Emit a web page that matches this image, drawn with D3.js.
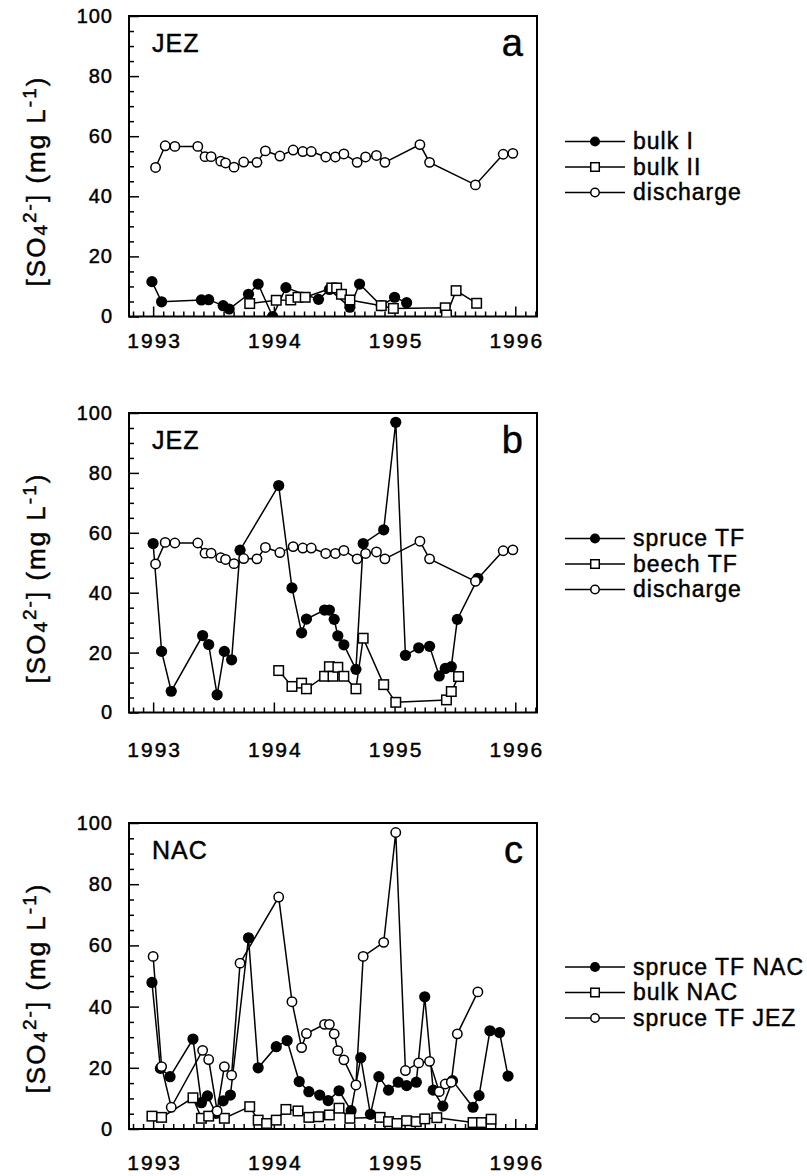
<!DOCTYPE html>
<html>
<head>
<meta charset="utf-8">
<script src="https://cdn.jsdelivr.net/npm/d3@7"></script>
<style>
  body { margin: 0; background: #fff; }
  svg { font-family: 'Liberation Sans', Arial, Helvetica, sans-serif; }
  svg text { fill: #000; stroke: #000; stroke-width: 0.45px; }
  .axis line { stroke: #000; stroke-width: 1.5; }
</style>
</head>
<body>
<div class="chart"></div>
<script>
'use strict'
// sampling dates as decimal years, [SO4 2-] in mg/L
const years = [1993, 1994, 1995, 1996]
const yTicks = [0, 20, 40, 60, 80, 100]

const discharge = [[1993.02, 49.6], [1993.10, 56.8], [1993.18, 56.6], [1993.37, 56.6], [1993.43, 53.2], [1993.48, 53.2],
  [1993.56, 51.7], [1993.60, 51.1], [1993.67, 49.7], [1993.75, 51.4], [1993.86, 51.3], [1993.93, 55.1], [1994.05, 53.4],
  [1994.16, 55.4], [1994.24, 54.9], [1994.31, 54.9], [1994.43, 53.1], [1994.51, 53.1], [1994.58, 54.1], [1994.69, 51.3],
  [1994.76, 53.1], [1994.85, 53.6], [1994.92, 51.3], [1995.21, 57.2], [1995.29, 51.3], [1995.67, 43.8], [1995.90, 54.0],
  [1995.98, 54.3]]

const bulkI = [[1992.99, 11.6], [1993.07, 4.9], [1993.40, 5.5], [1993.46, 5.6], [1993.58, 3.6], [1993.63, 2.5],
  [1993.79, 7.4], [1993.87, 10.8], [1993.99, 0], [1994.10, 9.6], [1994.37, 5.7], [1994.46, 9.0], [1994.63, 3.1],
  [1994.71, 10.8], [1994.89, 3.6], [1995.00, 6.4], [1995.10, 4.6]]

const bulkII = [[1993.80, 4.3], [1994.02, 5.4], [1994.14, 5.5], [1994.20, 6.4], [1994.26, 6.4], [1994.48, 9.5],
  [1994.52, 9.5], [1994.56, 7.4], [1994.63, 5.5], [1994.89, 3.6], [1994.99, 2.7], [1995.42, 2.9], [1995.43, 0.5],
  [1995.51, 8.6], [1995.68, 4.4]]

const spruceTF = [[1993.00, 56.4], [1993.07, 20.4], [1993.15, 7.1], [1993.41, 25.7], [1993.46, 22.7], [1993.53, 5.9],
  [1993.59, 20.4], [1993.65, 17.6], [1993.72, 54.2], [1994.04, 75.8], [1994.15, 41.6], [1994.23, 26.6], [1994.27, 31.2],
  [1994.42, 34.2], [1994.46, 34.2], [1994.50, 31.1], [1994.53, 25.6], [1994.58, 22.6], [1994.68, 14.4], [1994.74, 56.4],
  [1994.91, 61.0], [1995.01, 96.9], [1995.09, 19.1], [1995.20, 21.6], [1995.29, 22.1], [1995.37, 12.2], [1995.42, 14.7],
  [1995.47, 15.3], [1995.52, 31.1], [1995.69, 44.8]]

const beechTF = [[1994.04, 14.0], [1994.15, 8.7], [1994.23, 9.8], [1994.27, 7.9], [1994.42, 12.1], [1994.46, 15.3],
  [1994.49, 12.1], [1994.53, 15.1], [1994.58, 12.1], [1994.68, 7.9], [1994.74, 24.8], [1994.91, 9.3], [1995.01, 3.4],
  [1995.43, 4.2], [1995.47, 7.0], [1995.53, 12.0]]

const spruceNAC = [[1992.99, 47.9], [1993.06, 19.8], [1993.14, 17.1], [1993.33, 29.4], [1993.40, 8.6], [1993.45, 10.8],
  [1993.52, 5.1], [1993.58, 9.2], [1993.64, 11.1], [1993.79, 62.5], [1993.87, 20.0], [1994.02, 26.9], [1994.11, 28.9],
  [1994.21, 15.5], [1994.29, 12.2], [1994.38, 11.1], [1994.45, 9.3], [1994.54, 12.5], [1994.64, 6.0], [1994.72, 23.3],
  [1994.80, 4.8], [1994.87, 17.1], [1994.95, 12.7], [1995.03, 15.3], [1995.10, 14.2], [1995.18, 15.3], [1995.25, 43.2],
  [1995.32, 12.7], [1995.40, 7.5], [1995.48, 15.8], [1995.65, 7.1], [1995.70, 10.9], [1995.79, 32.1], [1995.87, 31.5],
  [1995.94, 17.3]]

const bulkNAC = [[1992.99, 4.2], [1993.07, 3.8], [1993.33, 10.2], [1993.40, 3.5], [1993.46, 4.2], [1993.59, 3.5],
  [1993.80, 7.3], [1993.87, 2.9], [1993.94, 1.8], [1994.02, 2.9], [1994.10, 6.4], [1994.20, 5.9], [1994.29, 3.8],
  [1994.37, 4.0], [1994.46, 4.6], [1994.54, 6.8], [1994.63, 3.5], [1994.88, 3.8], [1994.95, 2.4], [1995.02, 1.8],
  [1995.10, 2.7], [1995.18, 2.4], [1995.25, 3.3], [1995.35, 3.7], [1995.65, 2.1], [1995.72, 2.1], [1995.80, 3.2]]

const panels = [
  { letter: 'a', site: 'JEZ', top: 16, bottom: 316.5, yearPad: 17, legendTop: 141.5,
    series: [{ name: 'bulk I', data: bulkI, mark: 'filled' },
      { name: 'bulk II', data: bulkII, mark: 'square' },
      { name: 'discharge', data: discharge, mark: 'open' }] },
  { letter: 'b', site: 'JEZ', top: 413, bottom: 712.5, yearPad: 30, legendTop: 538.5,
    series: [{ name: 'spruce TF', data: spruceTF, mark: 'filled' },
      { name: 'beech TF', data: beechTF, mark: 'square' },
      { name: 'discharge', data: discharge, mark: 'open' }] },
  { letter: 'c', site: 'NAC', top: 823, bottom: 1129, yearPad: 26, legendTop: 967,
    series: [{ name: 'spruce TF NAC', data: spruceNAC, mark: 'filled' },
      { name: 'bulk NAC', data: bulkNAC, mark: 'square' },
      { name: 'spruce TF JEZ', data: spruceTF, mark: 'open' }] }
]

const width = 807
const height = 1176
const left = 129
const right = 537

const svg = d3.select('.chart').append('svg')
  .attr('width', width)
  .attr('height', height)

const x = d3.scaleLinear().domain([1992.8, 1996.18]).range([left, right])
const months = d3.range(-2, 40).map(function (m) { return 1993 + m / 12 })
  .filter(function (t) { return t > 1992.8 && t < 1996.18 && Math.abs(t - Math.round(t)) > 0.01 })
const minorY = d3.range(5, 100, 5).filter(function (v) { return v % 20 !== 0 })

const drawMark = function (sel, mark, px, py, small) {
  const k = small ? 0.9 : 1
  if (mark === 'filled') {
    sel.append('circle').attr('cx', px).attr('cy', py).attr('r', 5.6 * k).attr('fill', '#000')
  } else if (mark === 'open') {
    sel.append('circle').attr('cx', px).attr('cy', py).attr('r', 4.7 * k)
      .attr('fill', '#fff').attr('stroke', '#000').attr('stroke-width', 1.5)
  } else {
    const s = 9.5 * k
    sel.append('rect').attr('x', px - s / 2).attr('y', py - s / 2).attr('width', s).attr('height', s)
      .attr('fill', '#fff').attr('stroke', '#000').attr('stroke-width', 1.5)
  }
}

panels.forEach(function (p, pi) {
  const y = d3.scaleLinear().domain([0, 100]).range([p.bottom, p.top])
  const g = svg.append('g')

  g.append('clipPath').attr('id', 'clip' + pi)
    .append('rect').attr('x', left).attr('y', p.top).attr('width', right - left).attr('height', p.bottom - p.top)

  // axes, ticks point inward
  g.append('g').attr('class', 'axis').attr('transform', 'translate(0,' + p.bottom + ')')
    .call(d3.axisBottom(x).tickValues(months).tickSize(-5).tickFormat(''))
    .call(function (a) { a.select('.domain').remove() })
  g.append('g').attr('class', 'axis').attr('transform', 'translate(0,' + p.bottom + ')')
    .call(d3.axisBottom(x).tickValues(years).tickSize(-10).tickPadding(p.yearPad).tickFormat(d3.format('d')))
    .call(function (a) {
      a.select('.domain').remove()
      a.selectAll('text').attr('font-size', 21).attr('letter-spacing', 2).attr('dx', 1)
    })
  g.append('g').attr('class', 'axis').attr('transform', 'translate(' + left + ',0)')
    .call(d3.axisLeft(y).tickValues(minorY).tickSize(-5).tickFormat(''))
    .call(function (a) { a.select('.domain').remove() })
  g.append('g').attr('class', 'axis').attr('transform', 'translate(' + left + ',0)')
    .call(d3.axisLeft(y).tickValues(yTicks).tickSize(-10).tickPadding(16))
    .call(function (a) {
      a.select('.domain').remove()
      a.selectAll('text').attr('font-size', 20).attr('letter-spacing', 1)
    })

  g.append('rect')
    .attr('x', left).attr('y', p.top)
    .attr('width', right - left).attr('height', p.bottom - p.top)
    .attr('fill', 'none').attr('stroke', '#000').attr('stroke-width', 2)

  const plot = g.append('g').attr('clip-path', 'url(#clip' + pi + ')')
  const line = d3.line().x(function (d) { return x(d[0]) }).y(function (d) { return y(d[1]) })

  p.series.forEach(function (s) {
    plot.append('path').datum(s.data)
      .attr('d', line)
      .attr('fill', 'none').attr('stroke', '#000').attr('stroke-width', 1.5)
    const marks = plot.append('g')
    s.data.forEach(function (d) { drawMark(marks, s.mark, x(d[0]), y(d[1])) })
  })

  // legend
  const legend = g.append('g')
  p.series.forEach(function (s, i) {
    const ly = p.legendTop + i * 25.5
    legend.append('line').attr('x1', 565).attr('x2', 625).attr('y1', ly).attr('y2', ly)
      .attr('stroke', '#000').attr('stroke-width', 1.3)
    drawMark(legend, s.mark, 595, ly, true)
    legend.append('text').attr('x', 633).attr('y', ly).attr('dy', '0.33em')
      .attr('font-size', 23).attr('letter-spacing', 1).text(s.name)
  })

  g.append('text').attr('x', left + 23).attr('y', p.top + 36)
    .attr('font-size', 25).attr('letter-spacing', 1).text(p.site)
  g.append('text').attr('x', right - 14).attr('y', p.top + 40)
    .attr('text-anchor', 'end').attr('font-size', 38).text(p.letter)

  // y title [SO4 2-] (mg L-1)
  const title = g.append('text')
    .attr('transform', 'translate(45,' + (p.top + 165) + ') rotate(-90)')
    .attr('text-anchor', 'middle').attr('font-size', 26).attr('letter-spacing', 2)
  title.append('tspan').text('[SO')
  title.append('tspan').attr('font-size', 19).attr('dy', 2).text('4')
  title.append('tspan').attr('font-size', 19).attr('dy', -11).text('2-')
  title.append('tspan').attr('dy', 9).text('] (mg L')
  title.append('tspan').attr('font-size', 19).attr('dy', -9).text('-1')
  title.append('tspan').attr('dy', 9).text(')')
})
</script>
</body>
</html>
